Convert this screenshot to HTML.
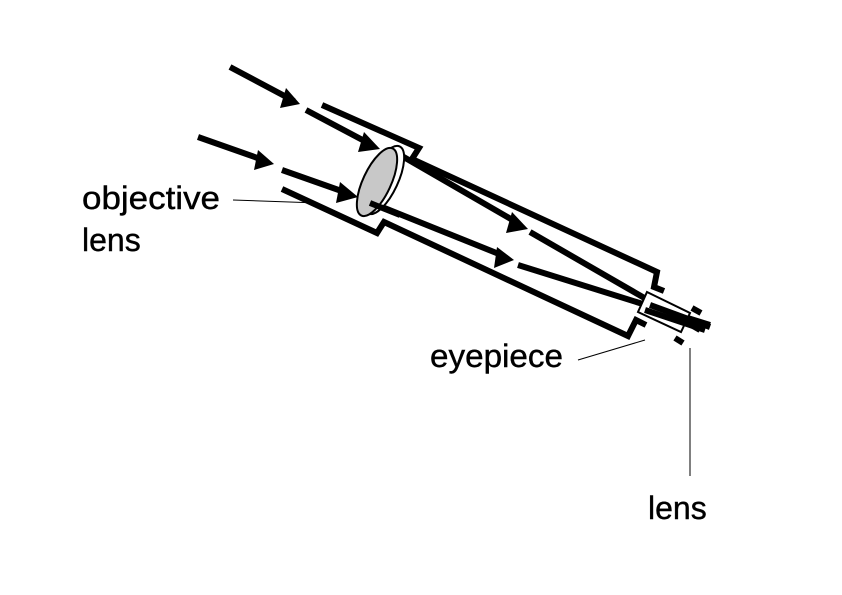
<!DOCTYPE html>
<html><head><style>
html,body{margin:0;padding:0;background:#fff;}
svg{display:block;}
text{font-family:"Liberation Sans","DejaVu Sans",sans-serif;font-size:32px;fill:#000;stroke:#000;stroke-width:0.4;}
</style></head><body>
<svg width="842" height="595" viewBox="0 0 842 595" xmlns="http://www.w3.org/2000/svg">
<g stroke="#000" stroke-width="6" fill="none" stroke-linejoin="miter">
<line x1="230" y1="67" x2="294" y2="101"/>
<line x1="306" y1="110" x2="372" y2="145"/>
<line x1="198" y1="137" x2="266" y2="161"/>
<line x1="282" y1="170" x2="350" y2="194"/>
<polyline points="322,105 419,148 412,159 657,272 654,287 664,291"/>
<polyline points="282,189 377,233 384,222 628,336 636,320 646,325"/>
<line x1="395" y1="152" x2="516" y2="222"/>
<line x1="530" y1="232" x2="700" y2="330"/>
<line x1="372" y1="203" x2="504" y2="256"/>
<line x1="518" y1="265" x2="710" y2="325"/>
</g>
<g fill="#000">
<polygon points="300,104 280,108 286,88"/>
<polygon points="380,149 358,152 364,132"/>
<polygon points="274,164 254,170 258,150"/>
<polygon points="358,197 336,203 340,182"/>
<polygon points="528,229 506,233 512,212"/>
<polygon points="514,260 494,268 497,247"/>
</g>
<g stroke="#000" stroke-width="2">
<ellipse cx="384" cy="180" rx="14" ry="37" transform="rotate(25 384 180)" fill="#fff"/>
<ellipse cx="377" cy="182" rx="14" ry="37" transform="rotate(25 377 182)" fill="#c8c8c8"/>
</g>
<line x1="370" y1="203" x2="400" y2="215" stroke="#000" stroke-width="6"/>
<polygon points="647,292 690,313 681,332 638,312" fill="#fff" stroke="#000" stroke-width="2"/>
<g stroke="#000" stroke-width="6">
<line x1="645" y1="310" x2="705" y2="330"/>
<line x1="650" y1="305" x2="710" y2="327"/>
<line x1="692" y1="308" x2="701" y2="313"/>
<line x1="675" y1="338" x2="683" y2="343"/>
</g>
<g stroke="#000" stroke-width="1">
<line x1="233" y1="200" x2="318" y2="203"/>
<line x1="578" y1="360" x2="645" y2="340"/>
<line x1="690" y1="348" x2="690" y2="476"/>
</g>
<text x="82" y="209" textLength="138" lengthAdjust="spacingAndGlyphs">objective</text>
<text x="82" y="251">lens</text>
<text x="430" y="367" textLength="133" lengthAdjust="spacingAndGlyphs">eyepiece</text>
<text x="648" y="519">lens</text>
</svg>
</body></html>
